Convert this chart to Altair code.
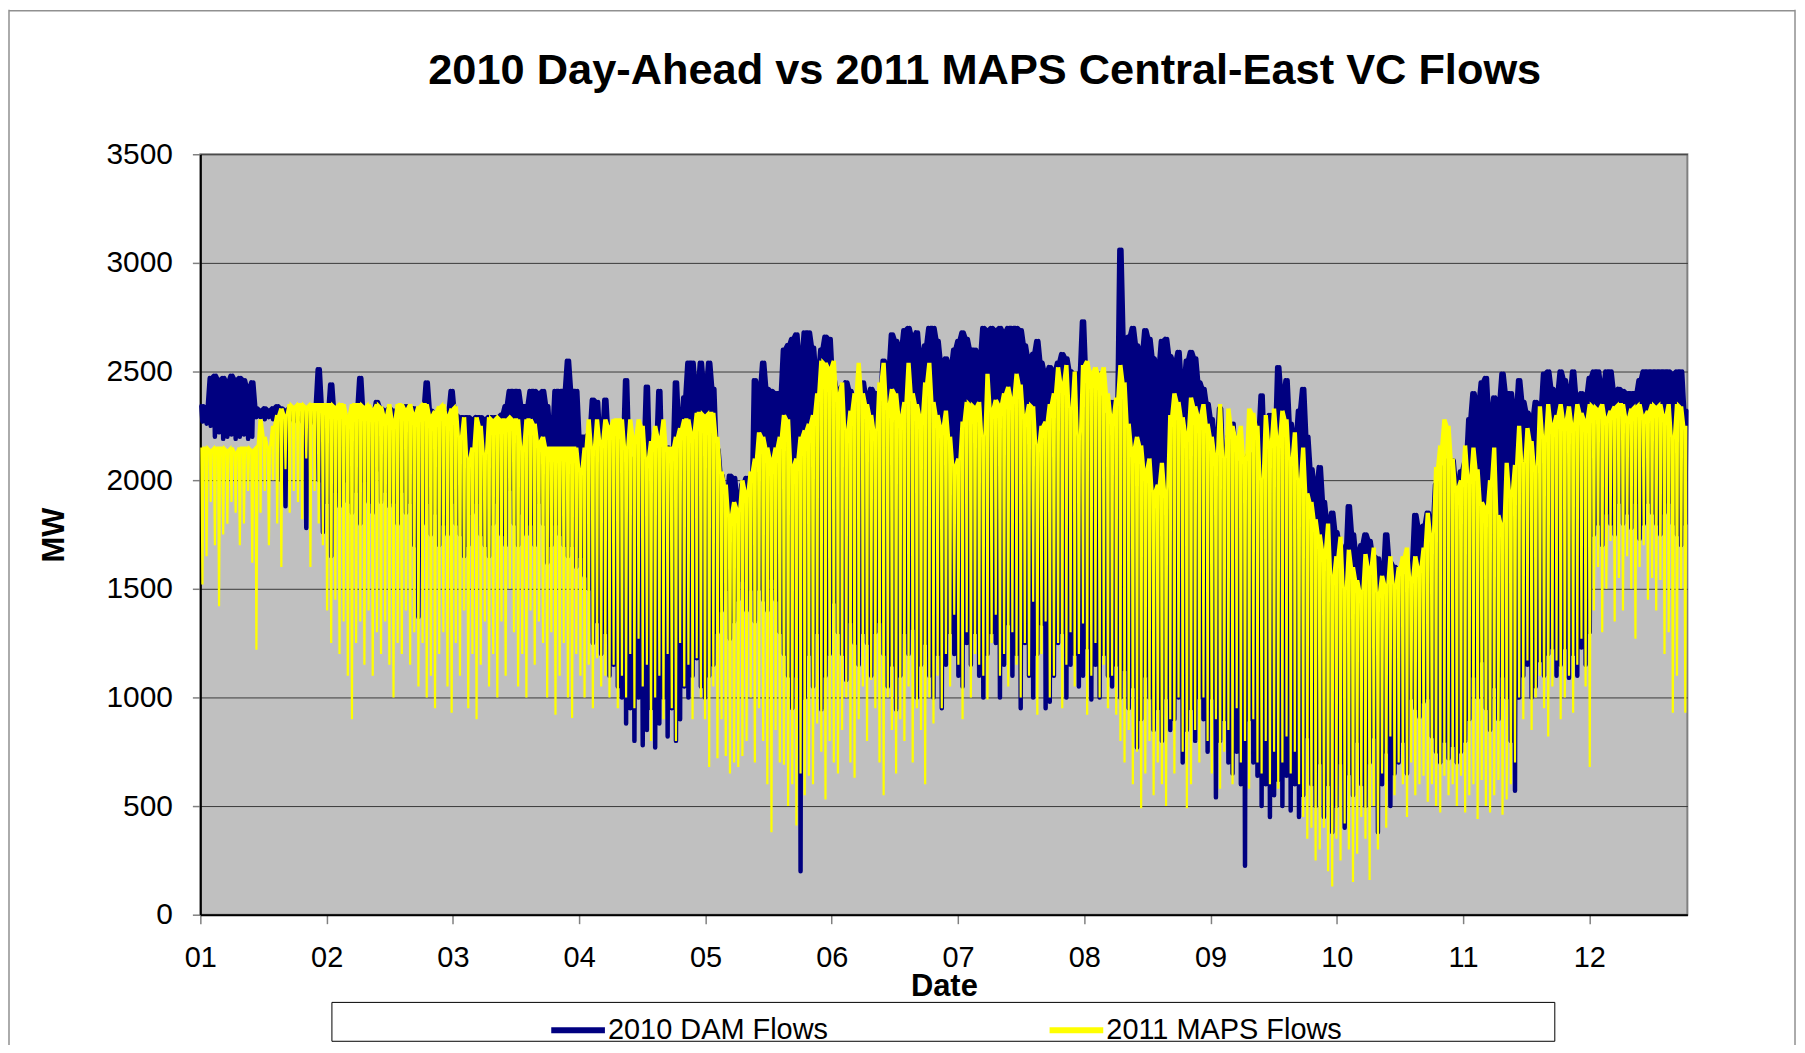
import altair as alt
import pandas as pd

# Daily high / low readings (MW), one entry per day from 1 Jan
DAM_HI = [
    2340, 2330, 2470, 2480, 2460, 2470, 2450, 2480, 2460, 2470,
    2460, 2420, 2450, 2330, 2320, 2330, 2320, 2330, 2340, 2330,
    2320, 2330, 2320, 2330, 2320, 2310, 2320, 2330, 2510, 2330,
    2300, 2440, 2300, 2290, 2300, 2290, 2300, 2310, 2470, 2300,
    2310, 2300, 2360, 2330, 2320, 2330, 2320, 2300, 2330, 2340,
    2320, 2330, 2300, 2320, 2450, 2320, 2310, 2300, 2300, 2310,
    2410, 2300, 2290, 2290, 2290, 2280, 2290, 2290, 2280, 2290,
    2290, 2290, 2300, 2340, 2410, 2410, 2410, 2340, 2340, 2410,
    2410, 2400, 2410, 2340, 2200, 2410, 2410, 2410, 2550, 2410,
    2410, 2200, 2200, 2210, 2370, 2360, 2180, 2370, 2190, 2200,
    2180, 2120, 2460, 2100, 2030, 2200, 2110, 2430, 2050, 2120,
    2410, 2000, 2150, 2100, 2450, 2230, 2380, 2540, 2540, 2410,
    2540, 2420, 2540, 2420, 2140, 2020, 1880, 2020, 2010, 1900,
    1980, 2010, 1870, 2460, 2410, 2540, 2420, 2410, 2400, 2400,
    2600, 2620, 2650, 2670, 2540, 2680, 2680, 2610, 2480, 2600,
    2660, 2650, 2460, 2410, 2430, 2450, 2410, 2370, 2400, 2450,
    2380, 2420, 2400, 2380, 2550, 2510, 2670, 2640, 2600, 2690,
    2700, 2660, 2680, 2560, 2620, 2700, 2700, 2640, 2540, 2560,
    2520, 2600, 2640, 2680, 2650, 2600, 2600, 2560, 2700, 2690,
    2700, 2690, 2700, 2680, 2700, 2700, 2700, 2690, 2620, 2560,
    2580, 2640, 2540, 2490, 2520, 2500, 2540, 2580, 2560, 2500,
    2480, 2490, 2730, 2470, 2410, 2450, 2380, 2300, 2280, 2360,
    2300, 3060, 2650, 2660, 2700, 2620, 2580, 2690, 2650, 2560,
    2520, 2640, 2650, 2570, 2540, 2590, 2430, 2550, 2590, 2560,
    2450, 2420, 2350, 2280, 2160, 2330, 2040, 2200, 2260, 2080,
    2000, 2100, 2120, 2060, 2200, 2390, 2100, 2300, 2180, 2520,
    2380, 2460, 2260, 2180, 2320, 2420, 2200, 2050, 1960, 2060,
    1900, 1800, 1850, 1760, 1700, 1640, 1880, 1750, 1650, 1700,
    1750, 1720, 1650, 1640, 1560, 1750, 1620, 1600, 1580, 1550,
    1560, 1620, 1840, 1780, 1790, 1850, 1780, 1980, 2060, 1970,
    2090, 2090, 1970, 2040, 2080, 2280, 2400, 2350, 2450, 2470,
    2280, 2380, 2360, 2490, 2400, 2400, 2300, 2460, 2360, 2310,
    2280, 2360, 2330, 2490, 2500, 2420, 2400, 2500, 2460, 2390,
    2500, 2380, 2400, 2390, 2470, 2500, 2500, 2420, 2500, 2500,
    2410, 2420, 2410, 2400, 2400, 2400, 2460, 2500, 2500, 2500,
    2500, 2500, 2500, 2500, 2490, 2500, 2500, 2320,
]
DAM_LO = [
    2270, 2260, 2250, 2200, 2220, 2190, 2200, 2210, 2190, 2200,
    2210, 2190, 2200, 2290, 2290, 2280, 2290, 2280, 2290, 2000,
    1880, 2280, 2270, 2280, 2270, 1780, 2260, 2270, 2000, 1760,
    1900, 1650, 1950, 1880, 2000, 1900, 1850, 1950, 1800, 2000,
    1900, 1850, 2050, 1900, 1950, 1880, 1900, 1800, 1950, 1850,
    1900, 1700, 1370, 1800, 1900, 1750, 1850, 1700, 1800, 1750,
    1900, 1800, 1750, 1650, 1700, 1850, 1900, 1750, 1700, 1650,
    1800, 1900, 1750, 1700, 1960, 1800, 1700, 1850, 1750, 1800,
    1700, 1900, 1800, 1620, 1700, 1800, 1750, 1700, 1650, 1700,
    1600, 1650, 1560, 1500, 1250, 1350, 1200, 1300, 1100, 1150,
    1050, 1000, 880, 950, 800, 1000, 780, 850, 950, 770,
    880, 1000, 820, 950, 800, 900, 1050, 1000, 1100, 1180,
    1050, 1000, 1100, 1150, 1300, 1400, 1500, 1270, 1350, 1450,
    1540, 1400, 1500, 1350, 1500, 1450, 1400, 1550, 1450, 1300,
    1200, 1100, 950, 1100, 200, 1000, 1200, 1050, 1300, 945,
    1100, 1200, 1440, 1300, 1200, 1080, 1350, 1250, 1150, 1300,
    1250, 1100, 1300, 1350, 1200, 1050, 1150, 945, 1100, 1300,
    1200, 1320, 1000, 1150, 1250, 1100, 1000, 1200, 950, 1150,
    1300, 1200, 1100, 1050, 1250, 1150, 1300, 1100, 1000, 1200,
    1300, 1250, 1000, 1150, 1340, 1100, 1200, 950, 1250, 1100,
    1000, 1200, 1340, 950, 980, 1100, 1250, 1300, 1000, 1150,
    1200, 1050, 1100, 1230, 990, 1150, 1000, 1200, 1100, 1050,
    1150, 1000, 1130, 950, 1050, 770, 900, 1100, 1000, 850,
    950, 800, 1000, 850, 900, 1000, 700, 850, 950, 800,
    1000, 900, 750, 1000, 540, 800, 900, 700, 650, 750,
    600, 225, 900, 700, 640, 500, 600, 450, 550, 620,
    500, 640, 480, 600, 450, 550, 820, 600, 500, 700,
    450, 600, 380, 500, 700, 400, 650, 550, 800, 600,
    500, 700, 820, 380, 600, 750, 500, 650, 700, 800,
    650, 1000, 950, 910, 980, 1000, 820, 750, 700, 800,
    720, 780, 700, 750, 800, 900, 1100, 1000, 1170, 950,
    850, 1050, 900, 1100, 1000, 800, 570, 1000, 1100, 1150,
    1000, 1050, 1170, 1100, 1200, 1230, 1100, 1150, 1230, 1090,
    1200, 1100, 1230, 1150, 1300, 1750, 1800, 1700, 1850, 1800,
    1750, 1900, 1800, 1850, 1780, 1900, 1730, 1800, 1900, 1850,
    1800, 1750, 1850, 1900, 1800, 1750, 1700, 1800,
]
MAPS_HI = [
    2150, 2150, 2140, 2150, 2150, 2150, 2140, 2150, 2130, 2150,
    2150, 2150, 2140, 2150, 2280, 2200, 2150, 2250, 2300, 2330,
    2300, 2350, 2340, 2350, 2350, 2340, 2350, 2350, 2350, 2350,
    2350, 2350, 2340, 2350, 2350, 2300, 2350, 2350, 2350, 2340,
    2350, 2330, 2350, 2340, 2300, 2350, 2280, 2350, 2350, 2330,
    2350, 2310, 2340, 2350, 2350, 2300, 2320, 2340, 2350, 2300,
    2330, 2340, 2200, 2290, 2100, 2150, 2290, 2250, 2120, 2290,
    2280, 2290, 2280, 2280, 2290, 2280, 2280, 2150, 2280, 2280,
    2260, 2180, 2200, 2150, 2150, 2150, 2150, 2150, 2150, 2150,
    2150, 2050, 2150, 2280, 2150, 2280, 2180, 2280, 2250, 2280,
    2280, 2280, 2150, 2280, 2200, 2280, 2250, 2100, 2180, 2250,
    2200, 2280, 2150, 2150, 2200, 2240, 2280, 2280, 2220, 2310,
    2310, 2300, 2310, 2310, 2200, 2040, 1980, 1840, 1900, 1870,
    2000, 1950, 2040, 2100, 2220, 2200, 2150, 2100, 2150, 2200,
    2300, 2280, 2070, 2100, 2200, 2230, 2260, 2300, 2400, 2550,
    2540, 2520, 2550, 2400, 2450, 2230, 2320, 2400, 2540, 2400,
    2350, 2300, 2230, 2450, 2540, 2350, 2420, 2400, 2300, 2360,
    2540, 2400, 2350, 2300, 2450, 2540, 2360, 2300, 2250, 2320,
    2200, 2070, 2100, 2270, 2360, 2350, 2340, 2360, 2200, 2490,
    2330, 2370, 2350, 2400, 2430, 2380, 2490, 2440, 2300, 2350,
    2340, 2160, 2250, 2270, 2350, 2400, 2520, 2450, 2530, 2330,
    2500, 2200, 2530, 2550, 2500, 2520, 2490, 2520, 2400, 2300,
    2380, 2530, 2450, 2260, 2150, 2200, 2160, 2050, 2100, 1950,
    1980, 2080, 1950, 2300, 2400, 2360, 2290, 2220, 2380, 2340,
    2300, 2350, 2260, 2200, 2120, 2350, 2100, 2330, 2250, 2200,
    2250, 2100, 2330, 2310, 2250, 2000, 2300, 2180, 2330, 2200,
    2320, 2280, 2100, 2220, 2000, 2150, 1940, 1900, 1820, 1750,
    1680, 1800, 1560, 1650, 1740, 1500, 1680, 1600, 1540, 1490,
    1660, 1600, 1690, 1480, 1560, 1520, 1650, 1520, 1600, 1650,
    1690, 1550, 1650, 1600, 1690, 1850, 1750, 2060, 2160, 2280,
    2250, 2100, 1970, 2000, 2160, 2020, 2150, 2050, 1900, 1880,
    2000, 2150, 1840, 1800, 2080, 1950, 2070, 2250, 2080, 2240,
    2180, 2060, 2340, 2200, 2350, 2260, 2300, 2350, 2280, 2340,
    2260, 2350, 2310, 2280, 2350, 2340, 2330, 2350, 2290, 2320,
    2340, 2350, 2350, 2290, 2330, 2340, 2350, 2300, 2320, 2350,
    2340, 2350, 2300, 2350, 2200, 2350, 2340, 2250,
]
MAPS_LO = [
    1520, 1650, 1900, 1700, 1420, 1750, 1800, 1900, 1850, 1700,
    1800, 1950, 1620, 1220, 1850, 1950, 1700, 2000, 1800, 1600,
    2050, 1850, 1950, 1900, 1820, 2100, 1600, 1950, 1800, 1700,
    1400, 1250, 1450, 1200, 1350, 1100, 900, 1250, 1350, 1150,
    1400, 1100, 1300, 1200, 1350, 1150, 1000, 1250, 1200, 1400,
    1150, 1300, 1050, 1250, 1000, 1100, 950, 1200, 1300, 1050,
    930, 1250, 1100, 1400, 950, 1200, 900, 1150, 1350, 1050,
    1200, 1000, 1350, 1100, 1500, 1300, 1050, 1200, 1000, 1400,
    1150, 1350, 1250, 1000, 1300, 920, 1100, 1250, 1000, 905,
    1200, 1100, 1000, 1150, 950, 1180, 1050, 1100, 1000, 1150,
    950, 1100, 1000, 1200, 950, 1270, 1050, 1150, 800, 1000,
    1100, 900, 1200, 950, 800, 1250, 1050, 1150, 900, 1180,
    1000, 900, 680, 1050, 720, 900, 730, 650, 700, 680,
    730, 800, 1000, 700, 950, 800, 600, 380, 850, 700,
    690, 500, 600, 410, 650, 550, 640, 600, 880, 750,
    530, 800, 700, 650, 850, 1000, 700, 630, 900, 1050,
    800, 1080, 950, 700, 550, 1000, 850, 650, 900, 800,
    1050, 700, 950, 850, 600, 1000, 880, 1100, 950, 1200,
    1050, 1380, 1150, 900, 1300, 1000, 1200, 1150, 1100, 990,
    1250, 1380, 1100, 1200, 1050, 1300, 1150, 1000, 1250, 1100,
    1440, 920, 1200, 1350, 1000, 1100, 1250, 950, 1150, 1300,
    1050, 1200, 1340, 920, 1100, 1250, 1000, 1150, 950, 1100,
    920, 800, 700, 850, 600, 750, 490, 650, 800, 550,
    700, 600, 500, 900, 650, 1000, 750, 490, 600, 850,
    700, 1000, 800, 650, 900, 580, 750, 850, 600, 950,
    700, 800, 580, 900, 700, 650, 800, 600, 750, 580,
    700, 820, 650, 750, 600, 450, 350, 400, 250, 300,
    400, 200, 130, 350, 250, 420, 300, 150, 280, 450,
    350, 160, 500, 300, 650, 400, 820, 550, 700, 600,
    450, 700, 550, 600, 640, 520, 600, 500, 470, 640,
    550, 600, 500, 640, 470, 550, 600, 440, 620, 500,
    470, 550, 620, 460, 530, 600, 700, 1000, 900, 1170,
    850, 1000, 1100, 950, 820, 1050, 1170, 900, 1000, 1100,
    930, 1150, 1270, 1050, 680, 1400, 1600, 1300, 1500, 1720,
    1350, 1550, 1400, 1650, 1500, 1270, 1600, 1700, 1450, 1550,
    1400, 1540, 1200, 1300, 930, 1100, 1500, 930,
]
MONTH_LABELS = ["01", "02", "03", "04", "05", "06", "07", "08", "09", "10", "11", "12"]
SERIES = ["2010 DAM Flows", "2011 MAPS Flows"]
COLORS = ["#000080", "#FFFF00"]
TITLE = "2010 Day-Ahead vs 2011 MAPS Central-East VC Flows"
DAYS_PER_LABEL = 30.4
N_DAYS = 358

# each day: daytime high, a night-time dip to the low, back to the high
rows = []
for name, hi, lo in [(SERIES[0], DAM_HI, DAM_LO), (SERIES[1], MAPS_HI, MAPS_LO)]:
    for d in range(min(len(hi), len(lo))):
        rows.append({"series": name, "day": d + 0.25, "MW": hi[d]})
        rows.append({"series": name, "day": d + 0.5, "MW": lo[d]})
        rows.append({"series": name, "day": d + 0.75, "MW": hi[d]})
df = pd.DataFrame(rows)

W, H = 1492, 763
FONT = "Liberation Sans"

label_array = "[" + ",".join("'%s'" % m for m in MONTH_LABELS) + "]"

x_enc = alt.X(
    "day:Q",
    scale=alt.Scale(domain=[0, N_DAYS], nice=False, zero=False),
    axis=alt.Axis(
        values=[i * DAYS_PER_LABEL for i in range(12)],
        labelExpr=label_array + "[round(datum.value/%s)]" % DAYS_PER_LABEL,
        grid=False, domainColor="black", domainWidth=2,
        tickColor="#808080", tickSize=9, tickWidth=1.5,
        labelFontSize=29, labelPadding=20, labelFlush=False, labelOverlap=False,
        title="Date", titleFontSize=31, titleFontWeight="bold",
        titleY=81, titleBaseline="alphabetic",
    ),
)
y_enc = alt.Y(
    "MW:Q",
    scale=alt.Scale(domain=[0, 3500], nice=False),
    axis=alt.Axis(
        values=list(range(0, 3501, 500)), format="d", grid=True, gridColor="#3a3a3a", gridWidth=1,
        domainColor="black", domainWidth=2, tickColor="#808080", tickSize=8, tickWidth=1.5,
        labelFontSize=30, labelPadding=20,
        title="MW", titleFontSize=31, titleFontWeight="bold", titleAngle=270,
        titleX=-146, titleY=H / 2, titleBaseline="middle",
    ),
)
color_enc = alt.Color(
    "series:N",
    scale=alt.Scale(domain=SERIES, range=COLORS),
    legend=alt.Legend(
        orient="none", legendX=349, legendY=849, direction="horizontal", columns=2,
        title=None, symbolType="stroke", symbolStrokeWidth=6, symbolSize=2900,
        labelFontSize=29, labelFont=FONT, labelOffset=0, columnPadding=210,
        labelLimit=500, padding=0,
    ),
)

base = alt.Chart(df)
dam = base.transform_filter(alt.datum.series == SERIES[0]).mark_line(
    strokeWidth=4.5, strokeJoin="round", strokeCap="round"
).encode(x=x_enc, y=y_enc, color=color_enc)
maps = base.transform_filter(alt.datum.series == SERIES[1]).mark_line(
    strokeWidth=2.2, strokeJoin="miter"
).encode(x=x_enc, y=y_enc, color=color_enc)

one = alt.Chart(pd.DataFrame({"title": [TITLE]}))
title_text = one.mark_text(
    font=FONT, fontSize=43.5, fontWeight="bold", color="black",
    align="center", baseline="alphabetic",
).encode(text="title:N", x=alt.value(787), y=alt.value(-70))
legend_box = one.mark_rect(fill="white", stroke="black", strokeWidth=1).encode(
    x=alt.value(132), x2=alt.value(1359), y=alt.value(851), y2=alt.value(890)
)
frame_left = one.mark_rule(color="#909090", strokeWidth=1.5).encode(
    x=alt.value(-192), y=alt.value(-145), y2=alt.value(900)
)
frame_right = one.mark_rule(color="#909090", strokeWidth=1.5).encode(
    x=alt.value(1600), y=alt.value(-145), y2=alt.value(900)
)
frame_top = one.mark_rule(color="#909090", strokeWidth=1.5).encode(
    x=alt.value(-192), x2=alt.value(1600), y=alt.value(-144)
)

chart = (
    alt.layer(legend_box, frame_left, frame_right, frame_top, title_text, dam, maps)
    .properties(
        width=W, height=H,
        autosize=alt.AutoSizeParams(type="none"),
        padding={"left": 193, "top": 145, "right": 110, "bottom": 129},
    )
    .configure(background="white")
    .configure_view(fill="#C0C0C0", stroke="#808080", strokeWidth=2)
    .configure_axis(labelFont=FONT, titleFont=FONT, labelColor="black", titleColor="black")
)

chart.save("out.html", embed_options={"renderer": "svg", "actions": False})
